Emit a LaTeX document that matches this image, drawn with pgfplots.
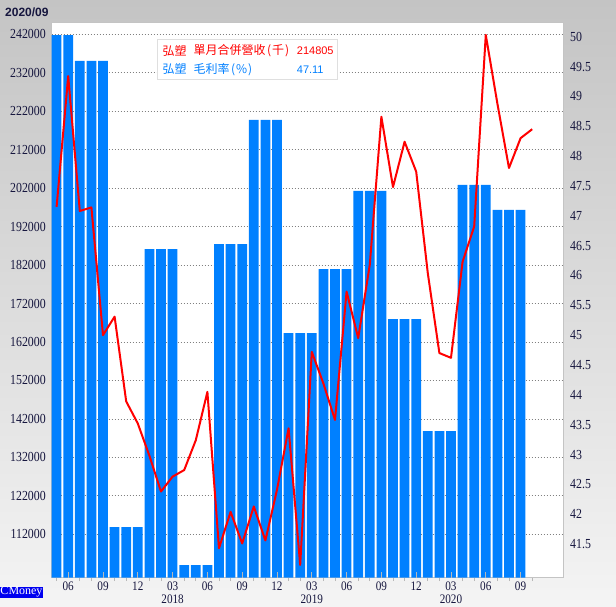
\documentclass[border=0pt]{standalone}
\usepackage{pgfplots}
\pgfplotsset{compat=1.18}
\usepackage{fontspec}
\setmainfont{Liberation Serif}
\newfontfamily\tallserif[FakeStretch=0.86]{Liberation Serif}
\newfontfamily\cjk{Noto Sans CJK TC}
\newfontfamily\lsans{Liberation Sans}
\definecolor{barblue}{HTML}{0080FF}
\definecolor{navy}{HTML}{16163E}
\definecolor{gridgray}{HTML}{808080}
\definecolor{framegray}{HTML}{C4C4C4}
\definecolor{bgtop}{HTML}{C4C4C4}
\definecolor{bgbot}{HTML}{F4F4F4}
\definecolor{cmblue}{HTML}{0000F0}
\definecolor{tickgray}{HTML}{B8B8B8}

\pgfplotstableread{
x v
0 241800
1 241800
2 235060
3 235060
4 235060
5 113900
6 113900
7 113900
8 186120
9 186120
10 186120
11 104020
12 104020
13 104020
14 187420
15 187420
16 187420
17 219730
18 219730
19 219730
20 164300
21 164300
22 164300
23 180930
24 180930
25 180930
26 201270
27 201270
28 201270
29 167940
30 167940
31 167940
32 138850
33 138850
34 138850
35 202850
36 202850
37 202850
38 196350
39 196350
40 196350
}\revenue

\pgfplotstableread{
x m
0 47.15
1 49.34
2 47.08
3 47.14
4 45.00
5 45.31
6 43.89
7 43.52
8 42.98
9 42.38
10 42.63
11 42.74
12 43.24
13 44.05
14 41.43
15 42.04
16 41.51
17 42.13
18 41.56
19 42.41
20 43.44
21 41.15
22 44.72
23 44.19
24 43.58
25 45.73
26 44.95
27 46.18
28 48.66
29 47.48
30 48.24
31 47.74
32 46.04
33 44.70
34 44.62
35 46.23
36 46.82
37 50.03
38 48.88
39 47.80
40 48.30
41 48.45
}\margin

\begin{document}
\begin{tikzpicture}[x=1pt,y=1pt]
\path[use as bounding box] (0,0) rectangle (616,606);
\shade[top color=bgtop, bottom color=bgbot] (0,0) rectangle (616,606);
\fill[white] (51.5,28.5) rectangle (563.5,584);

\begin{axis}[
  at={(51.5pt,28.5pt)}, anchor=south west,
  scale only axis, width=512pt, height=555.5pt,
  xmin=-0.44, xmax=43.7,
  ymin=100776, ymax=245196,
  axis line style={framegray},
  xtick={0,2,3,5,6,8,9,11,12,14,15,17,18,20,21,23,24,26,27,29,30,32,33,35,36,38,39,41},
  xticklabels={},
  xtick align=outside, xtick pos=left,
  major tick length=3.5pt,
  x tick style={tickgray, line width=0.8pt},
  ytick={112000,122000,...,242000},
  ytick pos=left,
  y tick style={draw=none},
  ymajorgrids,
  grid style={gridgray, line width=0.8pt, dash pattern=on 0.8pt off 2.2pt},
  scaled y ticks=false,
  yticklabel style={/pgf/number format/fixed, /pgf/number format/precision=0,
    /pgf/number format/1000 sep={}, /pgf/number format/assume math mode=true,
    font=\tallserif\fontsize{13.8}{13.8}\selectfont, text=navy, anchor=east, inner sep=0pt, xshift=-5.5pt},
  ybar, bar width=0.84,
]
\addplot[fill=barblue, draw=none] table[x=x, y=v] {\revenue};
\end{axis}

\begin{axis}[
  at={(51.5pt,28.5pt)}, anchor=south west,
  scale only axis, width=512pt, height=555.5pt,
  xmin=-0.44, xmax=43.7,
  ymin=40.94, ymax=50.246,
  axis line style={draw=none},
  xtick={1,4,...,40},
  xticklabels={06,09,12,{03\\2018},06,09,12,{03\\2019},06,09,12,{03\\2020},06,09},
  xtick align=inside, xtick pos=left,
  major tick length=6pt,
  x tick style={tickgray, line width=0.8pt},
  xticklabel style={font=\tallserif\fontsize{13}{13}\selectfont, text=navy, anchor=north,
    inner sep=0pt, yshift=-3.8pt, align=center},
  ytick={41.5,42,...,50},
  ytick pos=right,
  y tick style={draw=none},
  yticklabel style={/pgf/number format/assume math mode=true,
    font=\tallserif\fontsize{13.8}{13.8}\selectfont, text=navy, anchor=west, inner sep=0pt, xshift=6.5pt},
]
\addplot[red, line width=2pt, line join=round] table[x=x, y=m] {\margin};
\end{axis}

% legend box
\draw[fill=white, draw=gray!25, line width=0.8pt] (157,526.7) rectangle (337.3,566.7);
\node[anchor=west, inner sep=0pt, text=red, font=\cjk\fontsize{12}{12}\selectfont] at (162.3,555.3) {弘塑};
\node[anchor=west, inner sep=0pt, text=red, font=\cjk\fontsize{12}{12}\selectfont] at (193.3,555.3) {單月合併營收\kern1.5pt(\kern1pt千\kern1pt)};
\node[anchor=west, inner sep=0pt, text=red, font=\lsans\fontsize{11}{11}\selectfont] at (296.7,555.3) {214805};
\node[anchor=west, inner sep=0pt, text=barblue, font=\cjk\fontsize{12}{12}\selectfont] at (162.3,536.7) {弘塑};
\node[anchor=west, inner sep=0pt, text=barblue, font=\cjk\fontsize{12}{12}\selectfont] at (193.3,536.7) {毛利率\kern1.5pt(\kern1pt\%\kern1pt)};
\node[anchor=west, inner sep=0pt, text=barblue, font=\lsans\fontsize{11}{11}\selectfont] at (296.7,536.7) {47.11};

% top-left date
\node[anchor=west, inner sep=0pt, text=navy, font=\lsans\bfseries\fontsize{12}{12}\selectfont] at (5,593.3) {2020/09};

% CMoney tag
\fill[cmblue] (0,8.3) rectangle (43,19.3);
\node[anchor=center, inner sep=0pt, text=white, font=\fontsize{12}{12}\selectfont] at (21.5,13.8) {CMoney};
\end{tikzpicture}
\end{document}
